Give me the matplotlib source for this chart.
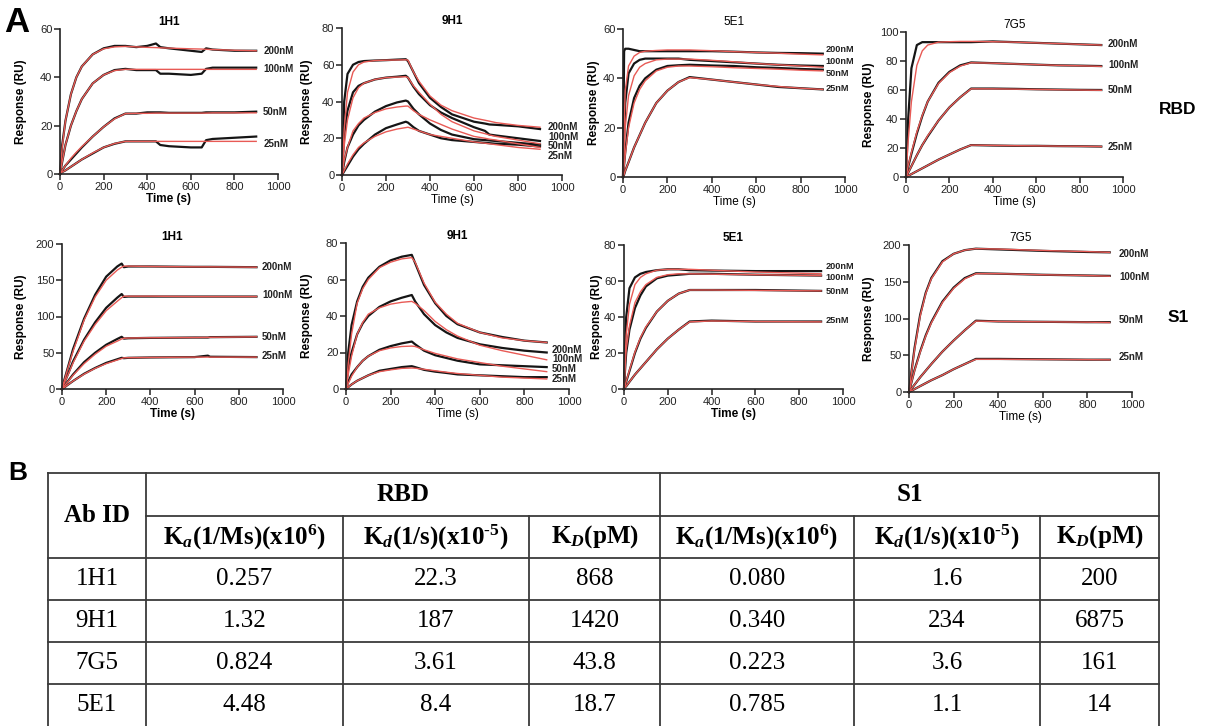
import matplotlib
matplotlib.use('Agg')
import matplotlib.pyplot as plt
import numpy as np

# ---------- fonts
plt.rcParams['font.family'] = ['Liberation Sans', 'DejaVu Sans']
plt.rcParams['mathtext.fontset'] = 'custom'
plt.rcParams['mathtext.rm'] = 'Liberation Serif:bold'
plt.rcParams['mathtext.it'] = 'Liberation Serif:italic:bold'
plt.rcParams['mathtext.bf'] = 'Liberation Serif:bold'

concs = ['200nM', '100nM', '50nM', '25nM']

# ---------- PART 1: sensorgram data (time s, response RU)
# RBD / 1H1
rbd_1h1_t = [0, 10, 25, 50, 75, 100, 150, 200, 250, 300, 350, 400, 440, 460, 500, 600, 650, 670, 700, 800, 900]
rbd_1h1_obs = [
    [0, 12, 22, 33, 40, 44.5, 49.5, 52, 53, 53, 52.5, 53, 54, 52.5, 52, 51, 50.5, 52, 51.5, 51, 51],
    [0, 5, 12, 20, 26, 31, 37.5, 41, 43, 43.5, 43, 43, 43, 41.5, 41.5, 41, 41.5, 43.5, 44, 44, 44],
    [0, 1.5, 3.5, 6, 8.5, 11, 15.5, 19.5, 23, 25, 25, 25.5, 25.5, 25.5, 25.3, 25.3, 25.3, 25.5, 25.5, 25.5, 25.8],
    [0, 0.8, 1.5, 3, 4.5, 6, 8.5, 11, 12.5, 13.5, 13.5, 13.5, 13.5, 12, 11.5, 11, 11, 14, 14.5, 15, 15.5],
]
rbd_1h1_fit = [
    [0, 11, 22, 33, 40, 44.5, 49.5, 51.8, 52.6, 52.8, 52.6, 52.4, 52.3, 52.2, 52.1, 51.8, 51.7, 51.6, 51.5, 51.2, 51],
    [0, 5, 12, 20, 26, 31, 37.5, 41, 42.8, 43.3, 43.3, 43.3, 43.3, 43.3, 43.3, 43.3, 43.3, 43.3, 43.3, 43.3, 43.3],
    [0, 1.5, 3.5, 6.5, 9, 11.3, 15.5, 19.5, 22.8, 25, 25.1, 25.1, 25.2, 25.2, 25.2, 25.2, 25.2, 25.2, 25.3, 25.3, 25.3],
    [0, 0.8, 1.5, 3, 4.5, 6, 8.7, 11, 12.6, 13.5, 13.5, 13.5, 13.5, 13.5, 13.5, 13.5, 13.5, 13.5, 13.5, 13.5, 13.5],
]
rbd_1h1_lab = [51, 43.3, 25.5, 12.5]

# RBD / 9H1
rbd_9h1_t = [0, 10, 25, 50, 75, 100, 150, 200, 250, 290, 300, 325, 350, 400, 450, 500, 600, 650, 670, 700, 800, 900]
rbd_9h1_obs = [
    [0, 40, 55, 60, 61.5, 62, 62.3, 62.5, 62.8, 63, 62, 56, 50, 42, 37, 33, 29, 28, 27.5, 27.3, 26.5, 25],
    [0, 22, 35, 45, 48.5, 50, 52, 53, 53.5, 54, 53, 48, 44, 38, 34, 31, 26, 24, 22, 21.5, 20, 18.5],
    [0, 7, 15, 22, 27, 30, 34.5, 37.5, 39.5, 40.5, 40, 36, 33, 28, 24.5, 22, 19.5, 19, 18.8, 18.5, 17.5, 16.5],
    [0, 2, 5, 10, 14, 17, 22, 25.5, 27.5, 29, 28.5, 26, 24, 22, 20, 19, 18, 17.5, 17.3, 17, 16.5, 15.5],
]
rbd_9h1_fit = [
    [0, 25, 45, 56, 60, 61.5, 62.3, 62.5, 62.6, 62.7, 62.5, 56, 51, 43, 38, 35, 31, 29.8, 29.3, 28.5, 27, 26],
    [0, 16, 30, 42, 47.5, 50, 52, 53, 53.3, 53.5, 53, 48.5, 45, 38.5, 33, 29, 24, 22.5, 21.8, 21, 19, 17],
    [0, 8, 15, 24, 28, 31, 34, 36, 37, 37.5, 37.5, 35, 33, 30, 27.5, 25, 21, 20, 19.5, 19, 17, 15],
    [0, 2.5, 6, 11, 15, 17.5, 21, 23.5, 25, 25.8, 26, 25, 24, 22, 21, 20, 18, 17.3, 17, 16.5, 15, 14],
]
rbd_9h1_lab = [26.1, 20.6, 15.7, 10.6]

# RBD / 5E1
rbd_5e1_t = [0, 5, 10, 25, 50, 75, 100, 150, 200, 250, 300, 400, 500, 600, 700, 800, 900]
rbd_5e1_obs = [
    [0, 51, 52, 52, 51.5, 51, 51, 51, 51, 51, 51, 51, 50.8, 50.5, 50.3, 50.2, 50],
    [0, 15, 30, 42, 46, 47.5, 48, 48, 48, 48, 47.5, 47, 46.5, 46, 45.5, 45.2, 45],
    [0, 5, 10, 22, 32, 37, 40, 43.5, 45, 45.3, 45.5, 45.2, 45, 44.5, 44.2, 43.8, 43.5],
    [0, 1, 2.5, 6, 12, 17, 22, 30, 35, 38.5, 40.5, 39.5, 38.5, 37.5, 36.5, 36, 35.5],
]
rbd_5e1_fit = [
    [0, 20, 35, 45, 49, 50.5, 51, 51.3, 51.5, 51.5, 51.5, 51.2, 50.8, 50.5, 50.2, 49.8, 49.5],
    [0, 10, 20, 33, 41, 44.5, 46, 47.5, 47.8, 47.8, 47.8, 47.3, 46.7, 46, 45.5, 45, 44.5],
    [0, 4.5, 9, 20, 30, 35.5, 39, 43, 44.5, 45, 45, 44.7, 44.3, 44, 43.7, 43.3, 43],
    [0, 1, 2.5, 6, 12, 17, 22, 30, 35, 38.5, 40.3, 39.5, 38.5, 37.5, 36.7, 36, 35.5],
]
rbd_5e1_lab = [51.6, 46.8, 42.1, 36]

# RBD / 7G5
rbd_7g5_t = [0, 10, 25, 50, 75, 100, 150, 200, 250, 300, 400, 500, 600, 700, 800, 900]
rbd_7g5_obs = [
    [0, 40, 75, 91, 93, 93, 93, 93, 93, 93, 93.5, 93, 92.5, 92, 91.5, 91],
    [0, 7, 16, 30, 42, 52, 65, 72.5, 77, 79, 78.5, 78, 77.5, 77, 76.8, 76.5],
    [0, 3, 7.5, 15, 22, 28, 39, 48, 55, 61, 61, 60.8, 60.5, 60.3, 60.1, 60],
    [0, 0.8, 2, 4, 6, 8, 12, 15.5, 19, 22, 21.7, 21.5, 21.5, 21.3, 21.2, 21],
]
rbd_7g5_fit = [
    [0, 25, 52, 77, 87, 91, 93, 93.3, 93.5, 93.5, 93.3, 93, 92.5, 92, 91.5, 91],
    [0, 7.5, 17, 31, 42.5, 52, 64.5, 72, 76.5, 78.8, 78.5, 78, 77.5, 77, 76.7, 76.3],
    [0, 3, 7.5, 15, 22, 28.5, 39, 48, 55, 60.8, 60.8, 60.6, 60.4, 60.2, 60, 59.8],
    [0, 0.8, 2, 4, 6, 8, 12, 15.5, 19, 22, 21.8, 21.6, 21.5, 21.3, 21.2, 21],
]
rbd_7g5_lab = [92, 77, 60, 20.7]

# S1 / 1H1
s1_1h1_t = [0, 10, 25, 50, 100, 150, 200, 250, 270, 280, 300, 400, 600, 660, 670, 880]
s1_1h1_obs = [
    [0, 12, 28, 55, 97, 130, 155, 169, 173, 168, 169, 169, 168.5, 168.5, 168.5, 168],
    [0, 8, 19, 38, 68, 92, 112, 126, 131, 127, 127.5, 127.5, 127.5, 127.5, 127.5, 127.5],
    [0, 4, 10, 20, 37, 50, 61, 69, 72, 69.5, 70, 70.5, 71, 71, 71.5, 72],
    [0, 2, 5.5, 11, 21, 29, 36, 41, 43, 42.5, 43, 43.5, 44, 46, 44.5, 44],
]
s1_1h1_fit = [
    [0, 11, 27, 52, 95, 127, 150, 164, 168, 169.5, 169.5, 169, 168.5, 168.5, 168.5, 168],
    [0, 8, 18, 36, 66, 89, 108, 121, 126, 128, 128, 128, 127.5, 127.5, 127.5, 127.5],
    [0, 4, 9.5, 19, 35, 48, 59, 66, 69, 70, 70.3, 70.7, 71, 71.2, 71.3, 72],
    [0, 2, 5.5, 11, 20.5, 28.5, 35, 40, 42, 43, 43.2, 43.5, 44, 44, 44, 44],
]
s1_1h1_lab = [168, 129, 72, 45]

# S1 / 9H1
s1_9h1_t = [0, 10, 25, 50, 75, 100, 150, 200, 250, 295, 310, 350, 400, 450, 500, 600, 700, 800, 900]
s1_9h1_obs = [
    [0, 20, 35, 48, 56, 61, 67, 70.5, 72.5, 73.5, 69, 57, 47, 40, 35.5, 31, 28.5, 26.5, 25.5],
    [0, 12, 20, 30, 36, 40, 45, 48, 50, 51.5, 48, 41, 35, 31, 28, 24.5, 22.5, 21, 20],
    [0, 4, 8, 12, 15.5, 18, 21.5, 23.5, 25, 26, 24.5, 21, 18.5, 17, 15.5, 13.5, 13, 12.5, 12],
    [0, 1, 2.5, 4.5, 6, 7.5, 10, 11, 12, 12.5, 12, 10.5, 9.5, 8.8, 8, 7.5, 7, 6.5, 6.5],
]
s1_9h1_fit = [
    [0, 14, 30, 47, 55, 60, 66.5, 69.5, 71.3, 72, 69.5, 58, 47.5, 41, 36, 31, 28, 26.5, 25.5],
    [0, 8, 18, 30, 36.5, 41, 44.5, 46.5, 47.5, 48, 47, 43, 37, 32.5, 29, 24, 21, 18.5, 16],
    [0, 3, 7, 12, 15.5, 18, 21, 22.5, 23.3, 23.5, 23.3, 21.5, 19.5, 18, 16.5, 14.5, 12.5, 11, 9.5],
    [0, 1, 2.5, 4.5, 6, 7.5, 9.5, 10.5, 11.3, 11.5, 11.4, 10.8, 10, 9.2, 8.5, 7.5, 6.5, 6, 5.5],
]
s1_9h1_lab = [21.6, 16.7, 10.7, 5.3]

# S1 / 5E1
s1_5e1_t = [0, 5, 10, 25, 50, 75, 100, 150, 200, 250, 300, 400, 600, 900]
s1_5e1_obs = [
    [0, 25, 40, 56, 62, 64, 65, 66, 66.5, 66.5, 66, 65.8, 65.5, 65.5],
    [0, 11, 20, 33, 45, 52, 57, 61.5, 63, 63.5, 64, 64, 63.5, 63],
    [0, 2, 4, 10, 20, 28, 34, 43, 49, 53, 55, 55, 55, 54.5],
    [0, 1, 1.5, 4, 8, 11.5, 15, 22, 28, 33, 37.5, 38, 37.5, 37.5],
]
s1_5e1_fit = [
    [0, 17, 30, 47, 58, 62, 64, 66, 66.5, 66.5, 66.5, 66, 65, 64],
    [0, 12, 22, 35, 48, 54, 58, 62, 63.5, 64, 64, 63.8, 63.5, 63],
    [0, 2, 4.2, 10.5, 20.5, 28.5, 34.5, 43, 49, 53, 55, 55, 54.8, 54.5],
    [0, 1, 1.6, 4, 8, 11.5, 15, 22, 28, 33, 37.3, 37.8, 37.5, 37.3],
]
s1_5e1_lab = [68.2, 61.8, 54, 38]

# S1 / 7G5
s1_7g5_t = [0, 10, 25, 50, 75, 100, 150, 200, 250, 300, 400, 600, 800, 900]
s1_7g5_obs = [
    [0, 25, 60, 105, 135, 155, 178, 188, 193, 195, 194, 192, 190.5, 190],
    [0, 12, 30, 55, 77, 95, 123, 142, 155, 161.5, 161, 159.5, 158.5, 158],
    [0, 4, 10, 20, 29, 38, 55, 70, 84, 97, 96, 95.5, 95, 95],
    [0, 1.5, 4, 8, 12, 16, 23, 31, 38, 45, 45, 44.5, 44, 44],
]
s1_7g5_fit = [
    [0, 24, 58, 103, 134, 154, 177, 188, 193, 195, 194.5, 192.5, 191, 190],
    [0, 12, 29, 54, 76, 94, 122, 141, 154, 161, 161, 159.5, 158.5, 157.5],
    [0, 4, 10, 20, 29, 38, 55, 70, 84, 96.5, 96, 95.5, 95, 94.5],
    [0, 1.5, 4, 8, 12, 16, 23, 31, 38, 44.5, 44.5, 44.3, 44, 43.8],
]
s1_7g5_lab = [188, 157, 98, 47]

# ---------- table data
tab_groups = ['RBD', 'S1']
tab_heads = [r'K$_a$(1/Ms)(x10$^6$)', r'K$_d$(1/s)(x10$^{' + '\u2010' + r'5}$)', r'K$_D$(pM)']
ab_ids = ['1H1', '9H1', '7G5', '5E1']
rbd_ka = ['0.257', '1.32', '0.824', '4.48']
rbd_kd = ['22.3', '187', '3.61', '8.4']
rbd_KD = ['868', '1420', '43.8', '18.7']
s1_ka = ['0.080', '0.340', '0.223', '0.785']
s1_kd = ['1.6', '234', '3.6', '1.1']
s1_KD = ['200', '6875', '161', '14']


# ---------- PART 2: figure
W, H = 1209, 726
fig = plt.figure(figsize=(W / 100, H / 100), dpi=100)


def px_axes(l, r, b, t):
    return fig.add_axes([l / W, 1 - b / H, (r - l) / W, (b - t) / H])


def draw_panel(box, title, t, obs, fit, lab_y, lab_x, ymax, ystep, ylab_dx, bold_title, bold_x, lab_fs=7):
    ax = px_axes(*box)
    for y in obs:
        ax.plot(t, y, color='#151515', lw=1.6, solid_joinstyle='round', clip_on=False)
    for y in fit:
        ax.plot(t, y, color='#e85a55', lw=1.0, clip_on=False)
    for c, y in zip(concs, lab_y):
        ax.text(lab_x, y, c, fontsize=lab_fs, fontweight='bold', va='center', ha='left', color='#222222')
    ax.set_xlim(0, 1000)
    ax.set_ylim(0, ymax)
    ax.set_xticks(range(0, 1001, 200))
    ax.set_yticks(np.arange(0, ymax + 1, ystep))
    for s in ['top', 'right']:
        ax.spines[s].set_visible(False)
    for s in ['left', 'bottom']:
        ax.spines[s].set_linewidth(1.2)
        ax.spines[s].set_color('#222222')
    ax.tick_params(direction='out', length=4, width=1.1, labelsize=8, pad=1.5, colors='#222222')
    ax.set_xlabel('Time (s)', fontsize=8.5, fontweight='bold' if bold_x else 'normal', labelpad=1)
    ax.set_ylabel('Response (RU)', fontsize=8.5, fontweight='bold')
    ax.yaxis.set_label_coords(ylab_dx / (box[1] - box[0]), 0.5)
    ax.set_title(title, fontsize=8.5, fontweight='bold' if bold_title else 'normal', pad=3)
    return ax


# top row: RBD
draw_panel((60, 278, 174, 29), '1H1', rbd_1h1_t, rbd_1h1_obs, rbd_1h1_fit, rbd_1h1_lab, 932, 60, 20, -33, True, True)
draw_panel((342, 562, 175, 28), '9H1', rbd_9h1_t, rbd_9h1_obs, rbd_9h1_fit, rbd_9h1_lab, 936, 80, 20, -29, True, False)
draw_panel((623, 845, 177, 29), '5E1', rbd_5e1_t, rbd_5e1_obs, rbd_5e1_fit, rbd_5e1_lab, 914, 60, 20, -23, False, False, 6.6)
draw_panel((906, 1123, 177, 32), '7G5', rbd_7g5_t, rbd_7g5_obs, rbd_7g5_fit, rbd_7g5_lab, 931, 100, 20, -31, False, False)

# bottom row: S1
draw_panel((62, 283, 389, 244), '1H1', s1_1h1_t, s1_1h1_obs, s1_1h1_fit, s1_1h1_lab, 905, 200, 50, -35, True, True)
draw_panel((346, 569, 389, 243), '9H1', s1_9h1_t, s1_9h1_obs, s1_9h1_fit, s1_9h1_lab, 924, 80, 20, -33, True, False)
draw_panel((624, 843, 389, 245), '5E1', s1_5e1_t, s1_5e1_obs, s1_5e1_fit, s1_5e1_lab, 922, 80, 20, -21, True, True, 6.6)
draw_panel((909, 1132, 392, 245), '7G5', s1_7g5_t, s1_7g5_obs, s1_7g5_fit, s1_7g5_lab, 942, 200, 50, -34, False, False)

# overlay in pixel coords for letters, row labels and the table
ov = fig.add_axes([0, 0, 1, 1])
ov.set_xlim(0, W)
ov.set_ylim(H, 0)
ov.axis('off')
ov.patch.set_alpha(0)

ov.text(4, 22, 'A', fontsize=25, fontweight='bold', va='center', ha='left')
ov.text(8, 473, 'B', fontsize=19, fontweight='bold', va='center', ha='left')
ov.text(1178, 110, 'RBD', fontsize=12.5, fontweight='bold', va='center', ha='center')
ov.text(1178, 317, 'S1', fontsize=12.5, fontweight='bold', va='center', ha='center')

# table grid
col_x = [48, 146, 343, 529, 660, 854, 1040, 1159]
row_y = [473, 516, 558, 600, 642, 684, 726]
lc = '#3a3a3a'
lw = 1.3
ov.plot([col_x[0], col_x[-1]], [row_y[0]] * 2, color=lc, lw=lw)
ov.plot([col_x[1], col_x[-1]], [row_y[1]] * 2, color=lc, lw=lw)
for y in row_y[2:6]:
    ov.plot([col_x[0], col_x[-1]], [y, y], color=lc, lw=lw)
for x in [col_x[0], col_x[1], col_x[4], col_x[7]]:
    ov.plot([x, x], [row_y[0], row_y[-1]], color=lc, lw=lw)
for x in [col_x[2], col_x[3], col_x[5], col_x[6]]:
    ov.plot([x, x], [row_y[1], row_y[-1]], color=lc, lw=lw)

serif = ['Liberation Serif', 'DejaVu Serif']
ov.text((col_x[0] + col_x[1]) / 2, (row_y[0] + row_y[2]) / 2, 'Ab ID', family=serif,
        fontsize=18, fontweight='bold', ha='center', va='center')
for g, (a, b) in zip(tab_groups, [(1, 4), (4, 7)]):
    ov.text((col_x[a] + col_x[b]) / 2, (row_y[0] + row_y[1]) / 2, g, family=serif,
            fontsize=18, fontweight='bold', ha='center', va='center')
for j in range(6):
    ov.text((col_x[j + 1] + col_x[j + 2]) / 2, (row_y[1] + row_y[2]) / 2, tab_heads[j % 3],
            family=serif, fontsize=18, fontweight='bold', ha='center', va='center')

cols = [ab_ids, rbd_ka, rbd_kd, rbd_KD, s1_ka, s1_kd, s1_KD]
for j, col in enumerate(cols):
    for i, v in enumerate(col):
        ov.text((col_x[j] + col_x[j + 1]) / 2, (row_y[i + 2] + row_y[i + 3]) / 2, v,
                family=serif, fontsize=18, ha='center', va='center')

fig.savefig('out.png', dpi=100)
